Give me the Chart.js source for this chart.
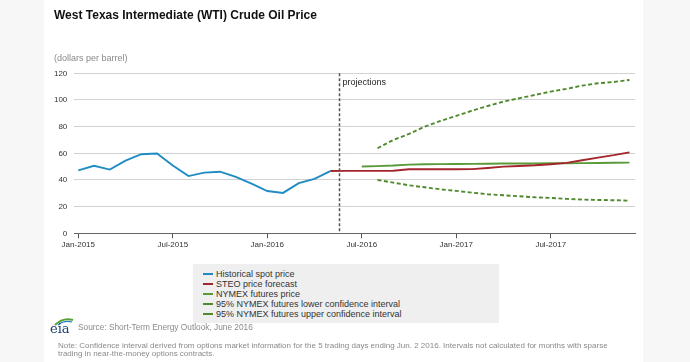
<!DOCTYPE html>
<html>
<head>
<meta charset="utf-8">
<script src="https://cdn.jsdelivr.net/npm/chart.js@4.4.1/dist/chart.umd.min.js"></script>
<style>
  html, body { margin: 0; padding: 0; }
  body { width: 690px; height: 362px; position: relative; overflow: hidden;
         background: #f7f7f7; font-family: "Liberation Sans", Arial, sans-serif; }
  #panel { position: absolute; left: 44px; top: 0; width: 599px; height: 362px; background: #fff; }
  #chart { position: absolute; left: 0; top: 0; }
  .txt { position: absolute; white-space: nowrap; }
  #title { left: 54px; top: 9px; font-size: 12px; line-height: 12px; font-weight: bold; color: #111; }
  #units { left: 54px; top: 54px; font-size: 9px; line-height: 9px; color: #8a8a8a; }
  #legend { position: absolute; left: 193px; top: 264px; width: 306px; height: 59px; background: #efefef; }
  .row { position: absolute; left: 0; font-size: 9px; line-height: 10px; color: #333; }
  .row .sw { position: absolute; left: 10px; top: 4px; width: 10px; height: 0; border-top: 2px solid; }
  .row .sw.dash { border-top-style: dashed; }
  .row span.lab { position: absolute; left: 23px; top: 0; white-space: nowrap; }
  #source { left: 78px; top: 323px; font-size: 8.3px; line-height: 9px; color: #8a8a8a; }
  #note { left: 58px; top: 342px; font-size: 8px; line-height: 8px; color: #8a8a8a; }
  #logo { position: absolute; left: 49px; top: 317px; }
</style>
</head>
<body>
<div id="panel"></div>
<canvas id="chart" width="690" height="362"></canvas>
<div id="title" class="txt">West Texas Intermediate (WTI) Crude Oil Price</div>
<div id="units" class="txt">(dollars per barrel)</div>
<div id="legend"></div>
<svg id="logo" width="26" height="18" viewBox="0 0 26 18">
  <path d="M6 8 Q14 0 24 3" stroke="#5ba23a" stroke-width="2" fill="none"/>
  <path d="M9 8 Q15 3 23 5" stroke="#1f7fc0" stroke-width="1.2" fill="none"/>
  <text x="1" y="16" font-family="DejaVu Serif, serif" font-size="13" fill="#1b3f6e">eia</text>
</svg>
<div id="source" class="txt">Source: Short-Term Energy Outlook, June 2016</div>
<div id="note" class="txt">Note: Confidence interval derived from options market information for the 5 trading days ending Jun. 2 2016. Intervals not calculated for months with sparse<br>trading in near-the-money options contracts.</div>

<script>
// WTI crude oil price, EIA STEO June 2016 chart

// month labels, index 0 = Jan-2015
const MONTHS = [
  'Jan-2015', 'Feb-2015', 'Mar-2015', 'Apr-2015', 'May-2015', 'Jun-2015',
  'Jul-2015', 'Aug-2015', 'Sep-2015', 'Oct-2015', 'Nov-2015', 'Dec-2015',
  'Jan-2016', 'Feb-2016', 'Mar-2016', 'Apr-2016', 'May-2016', 'Jun-2016',
  'Jul-2016', 'Aug-2016', 'Sep-2016', 'Oct-2016', 'Nov-2016', 'Dec-2016',
  'Jan-2017', 'Feb-2017', 'Mar-2017', 'Apr-2017', 'May-2017', 'Jun-2017',
  'Jul-2017', 'Aug-2017', 'Sep-2017', 'Oct-2017', 'Nov-2017', 'Dec-2017'
];
const X_TICKS = [0, 6, 12, 18, 24, 30];
const Y_TICKS = [0, 20, 40, 60, 80, 100, 120];
const PROJECTION_AT = 16.55;

// historical spot price, Jan-2015 .. May-2016
const HIST_START = 0;
const HIST = [47.2, 50.6, 47.8, 54.5, 59.3, 59.8, 50.9, 42.9, 45.5, 46.2, 42.4, 37.2,
              31.7, 30.3, 37.6, 40.8, 46.7];

// STEO forecast, May-2016 .. Dec-2017
const STEO_START = 16;
const STEO = [46.7, 46.8, 46.8, 46.8, 46.9, 48.0, 48.0, 48.0, 48.0, 48.1, 49.0, 50.0,
              50.5, 51.0, 51.8, 52.8, 54.8, 56.8, 58.6, 60.7];

// NYMEX futures, Jul-2016 .. Dec-2017
const NYMEX_START = 18;
const NYMEX = [50.1, 50.4, 50.8, 51.5, 51.8, 51.9, 52.0, 52.1, 52.2, 52.3, 52.4, 52.4,
               52.5, 52.5, 52.6, 52.7, 52.9, 53.0];

// 95% confidence interval, Aug-2016 .. Dec-2017
const CI_START = 19;
const CI_LOWER = [40.0, 38.0, 36.0, 34.5, 33.0, 31.8, 30.5, 29.3, 28.5, 27.8, 27.0, 26.5,
                  25.8, 25.3, 25.0, 24.8, 24.5];
const CI_UPPER = [63.8, 70.0, 74.5, 80.0, 84.3, 88.0, 92.0, 95.5, 98.8, 101.3, 103.8, 106.3,
                  108.3, 110.8, 112.5, 113.5, 115.0];

const SERIES = [
  { label: 'Historical spot price', start: HIST_START, values: HIST, color: '#1f8cc4', dash: [], order: 0 },
  { label: 'STEO price forecast', start: STEO_START, values: STEO, color: '#a3262d', dash: [], order: 1 },
  { label: 'NYMEX futures price', start: NYMEX_START, values: NYMEX, color: '#5b9a38', dash: [], order: 2 },
  { label: '95% NYMEX futures lower confidence interval', start: CI_START, values: CI_LOWER, color: '#4f8a2c', dash: [4, 2.5], order: 3 },
  { label: '95% NYMEX futures upper confidence interval', start: CI_START, values: CI_UPPER, color: '#4f8a2c', dash: [4, 2.5], order: 3 }
];

function toPoints(start, values) {
  return values.map((v, i) => ({ x: start + i, y: v }));
}

// legend (html)
const legendBox = document.getElementById('legend');
SERIES.forEach((s, i) => {
  const row = document.createElement('div');
  row.className = 'row';
  row.style.top = (5 + i * 10) + 'px';
  row.style.width = '300px';
  row.style.height = '10px';
  row.innerHTML = `<div class="sw${s.dash.length ? ' dash' : ''}" style="border-top-color:${s.color}"></div><span class="lab">${s.label}</span>`;
  legendBox.appendChild(row);
});

// dashed "projections" divider
const projectionLine = {
  id: 'projectionLine',
  afterDatasetsDraw(chart) {
    const { ctx, chartArea, scales } = chart;
    const x = Math.round(scales.x.getPixelForValue(PROJECTION_AT)) + 0.5;
    ctx.save();
    ctx.strokeStyle = '#555';
    ctx.lineWidth = 1.5;
    ctx.setLineDash([3, 2]);
    ctx.beginPath();
    ctx.moveTo(x, chartArea.top);
    ctx.lineTo(x, chartArea.bottom);
    ctx.stroke();
    ctx.setLineDash([]);
    ctx.fillStyle = '#222';
    ctx.font = '9px "Liberation Sans", Arial, sans-serif';
    ctx.textBaseline = 'middle';
    ctx.fillText('projections', x + 3, chartArea.top + 9);
    ctx.restore();
  }
};

new Chart(document.getElementById('chart'), {
  type: 'line',
  data: {
    datasets: SERIES.map(s => ({
      label: s.label,
      data: toPoints(s.start, s.values),
      borderColor: s.color,
      borderWidth: 1.9,
      borderDash: s.dash,
      pointRadius: 0,
      fill: false,
      tension: 0,
      order: s.order
    }))
  },
  options: {
    responsive: false,
    animation: false,
    events: [],
    layout: { padding: { left: 40, right: 55, top: 73.3, bottom: 108.7 } },
    plugins: { legend: { display: false }, tooltip: { enabled: false } },
    scales: {
      x: {
        type: 'linear',
        min: -0.254,
        max: 35.35,
        afterBuildTicks(scale) { scale.ticks = X_TICKS.map(v => ({ value: v })); },
        afterFit(scale) { scale.height = 20; },
        grid: { drawOnChartArea: false, drawTicks: true, tickLength: 5, color: '#555' },
        border: { display: true, color: '#666', width: 1 },
        ticks: {
          padding: 2,
          maxRotation: 0,
          autoSkip: false,
          color: '#333',
          font: { family: '"Liberation Sans", Arial, sans-serif', size: 8 },
          callback: v => MONTHS[v]
        }
      },
      y: {
        min: 0,
        max: 120,
        afterBuildTicks(scale) { scale.ticks = Y_TICKS.map(v => ({ value: v })); },
        afterFit(scale) { scale.width = 34.3; },
        grid: {
          drawTicks: false,
          color: ctx => ctx.tick && ctx.tick.value === 0 ? 'rgba(0,0,0,0)' : '#d2d2d2'
        },
        border: { display: false },
        ticks: {
          padding: 7,
          color: '#333',
          font: { family: '"Liberation Sans", Arial, sans-serif', size: 8 }
        }
      }
    }
  },
  plugins: [projectionLine]
});
</script>
</body>
</html>
